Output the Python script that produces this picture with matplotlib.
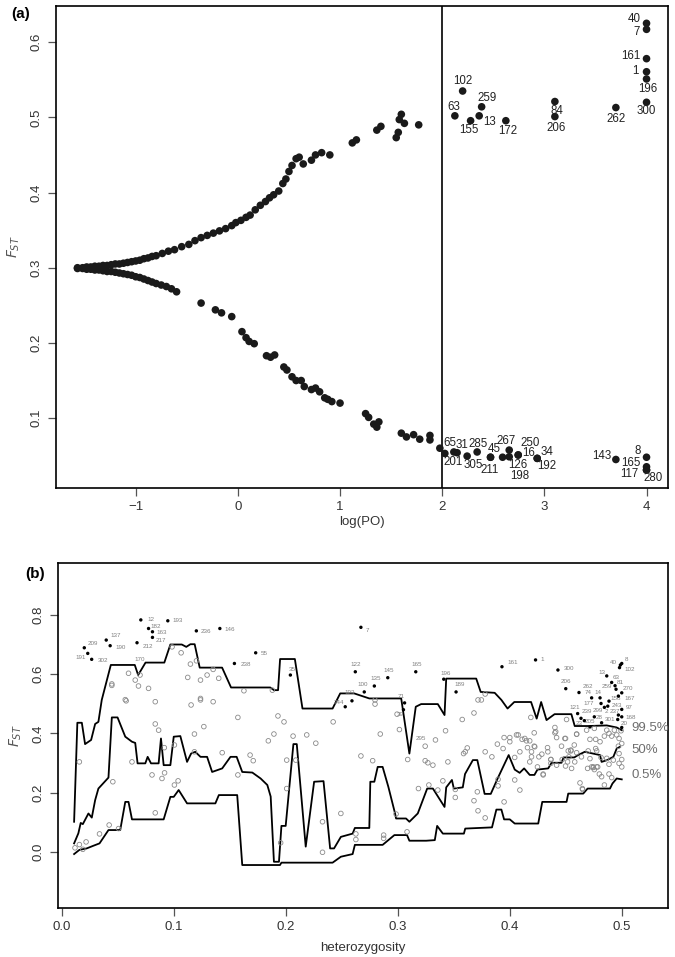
import matplotlib
matplotlib.use('Agg')
import matplotlib.pyplot as plt

plt.rcParams['font.family'] = ['Liberation Sans', 'DejaVu Sans']

# ---------------- Panel (a) data ----------------
a_upper_x = [-1.57, -1.52, -1.48, -1.44, -1.40, -1.36, -1.32, -1.28, -1.24, -1.20, -1.16, -1.12, -1.08,
             -1.04, -1.00, -0.96, -0.92, -0.88, -0.84, -0.80, -0.74, -0.68, -0.62, -0.55, -0.48, -0.42,
             -0.36, -0.30, -0.24, -0.18, -0.12, -0.06, -0.02, 0.03, 0.08, 0.12, 0.17, 0.22, 0.27, 0.31,
             0.35, 0.40, 0.44, 0.47, 0.50, 0.53, 0.57, 0.60, 0.64, 0.72, 0.76, 0.82, 0.90, 1.12, 1.16,
             1.36, 1.40, 1.55, 1.57, 1.58, 1.60, 1.63, 1.77]
a_upper_y = [0.300, 0.300, 0.301, 0.301, 0.302, 0.302, 0.303, 0.303, 0.304, 0.305, 0.305, 0.306, 0.307,
             0.308, 0.309, 0.310, 0.312, 0.313, 0.315, 0.316, 0.319, 0.322, 0.324, 0.328, 0.331, 0.336,
             0.340, 0.343, 0.346, 0.349, 0.352, 0.356, 0.360, 0.363, 0.367, 0.370, 0.377, 0.383, 0.388,
             0.393, 0.397, 0.402, 0.412, 0.418, 0.428, 0.436, 0.445, 0.447, 0.438, 0.443, 0.450, 0.453,
             0.450, 0.466, 0.470, 0.483, 0.488, 0.473, 0.480, 0.497, 0.504, 0.492, 0.490]
a_lower_x = [-1.57, -1.52, -1.48, -1.44, -1.40, -1.36, -1.32, -1.28, -1.24, -1.20, -1.16, -1.12, -1.08,
             -1.04, -1.00, -0.96, -0.92, -0.88, -0.84, -0.80, -0.75, -0.70, -0.65, -0.60, -0.36, -0.22,
             -0.16, -0.06, 0.04, 0.08, 0.11, 0.16, 0.28, 0.32, 0.36, 0.45, 0.48, 0.53, 0.57, 0.62, 0.65,
             0.72, 0.76, 0.80, 0.85, 0.88, 0.92, 1.00, 1.25, 1.28, 1.33, 1.36, 1.38, 1.60, 1.65, 1.72,
             1.78, 1.88, 1.88, 1.977]
a_lower_y = [0.299, 0.299, 0.298, 0.298, 0.297, 0.297, 0.296, 0.295, 0.295, 0.294, 0.293, 0.292, 0.291,
             0.290, 0.288, 0.287, 0.285, 0.283, 0.281, 0.279, 0.277, 0.275, 0.272, 0.268, 0.253, 0.244,
             0.240, 0.235, 0.215, 0.207, 0.202, 0.199, 0.183, 0.181, 0.184, 0.168, 0.164, 0.155, 0.150,
             0.150, 0.142, 0.138, 0.140, 0.135, 0.127, 0.125, 0.122, 0.120, 0.106, 0.101, 0.092, 0.088,
             0.095, 0.080, 0.075, 0.078, 0.072, 0.077, 0.071, 0.060]

a_out_labels = ['102', '63', '259', '155', '13', '172', '84', '206', '262', '300', '40', '7', '161', '1', '196',
                '201', '65', '31', '305', '285', '45', '211', '267', '126', '198', '250', '16', '34', '192',
                '143', '8', '165', '117', '280']
a_out_x = [2.20, 2.124, 2.386, 2.278, 2.362, 2.623, 3.103, 3.103, 3.70, 4.0, 4.0, 4.0, 4.0, 4.0, 4.0,
           2.026, 2.114, 2.146, 2.244, 2.342, 2.473, 2.473, 2.656, 2.656, 2.591, 2.744, 2.744, 2.93, 2.93,
           3.70, 4.0, 4.0, 4.0, 4.0]
a_out_y = [0.535, 0.502, 0.514, 0.4955, 0.502, 0.4955, 0.521, 0.501, 0.513, 0.520, 0.625, 0.617, 0.578,
           0.5606, 0.551, 0.053, 0.055, 0.054, 0.0495, 0.055, 0.048, 0.048, 0.0575, 0.0486, 0.048, 0.051,
           0.051, 0.0465, 0.0465, 0.045, 0.048, 0.0353, 0.031, 0.031]
# label offsets in pixels (dx right, dy down)
a_lab_dx = [0, -1, 5, -2, 10, 2, 2, 1, 0, 0, -12, -10, -16, -11, 1,
            8, -4, 5, 6, 1, 4, -1, -3, 9, 17, 12, 10, 10, 10, -14, -9, -16, -17, 7]
a_lab_dy = [-10, -9, -9, 9, 6, 10, 9, 11, 11, 9, -4, 3, -3, -1, 10,
            9, -9, -8, 9, -8, -8, 13, -9, 8, 19, -12, -2, -6, 8, -3, -6, -4, 4, 8]

# ---------------- Panel (b) data ----------------
b_open_x = [0.0155, 0.0116, 0.0155, 0.0186, 0.0215, 0.0335, 0.0421, 0.0454, 0.0505, 0.0573, 0.0625, 0.0804,
            0.0833, 0.0863, 0.0833, 0.0914, 0.0893, 0.0916, 0.0833, 0.1004, 0.1004, 0.1037, 0.1153, 0.1183,
            0.1183, 0.1237, 0.1267, 0.135, 0.1431, 0.1571, 0.1571, 0.168, 0.1708, 0.1843, 0.1893, 0.1929,
            0.1983, 0.2007, 0.2007, 0.1953, 0.2064, 0.2088, 0.2186, 0.2267, 0.2327, 0.2327, 0.2422, 0.2491,
            0.2625, 0.2625, 0.267, 0.2775, 0.2843, 0.2873, 0.2873, 0.2993, 0.3014, 0.2984, 0.3082, 0.3088,
            0.3184, 0.3244, 0.3244, 0.3268, 0.3313, 0.3277, 0.3336, 0.3357, 0.3402, 0.3426, 0.3447, 0.3513,
            0.3513, 0.3575, 0.3587, 0.3602, 0.362, 0.368, 0.368, 0.371, 0.3716, 0.378, 0.378, 0.384, 0.3889,
            0.3895, 0.3895, 0.394, 0.3949, 0.3949, 0.400, 0.400, 0.4044, 0.4044, 0.406, 0.4075, 0.409, 0.409,
            0.411, 0.4149, 0.4178, 0.4178, 0.4194, 0.4218, 0.4218, 0.426, 0.4298, 0.4337, 0.4367, 0.4367,
            0.4403, 0.4403, 0.4418, 0.4468, 0.4492, 0.4498, 0.4522, 0.4546, 0.4552, 0.4576, 0.458, 0.4597,
            0.4597, 0.4627, 0.465, 0.4695, 0.4716, 0.4731, 0.4746, 0.4755, 0.4767, 0.4776, 0.4776, 0.48,
            0.4188, 0.441, 0.4507, 0.4498, 0.4597, 0.4686, 0.4716, 0.4755, 0.4806, 0.4845, 0.4866, 0.4886,
            0.491, 0.4934, 0.4955, 0.4976, 0.4994, 0.5, 0.497, 0.4976, 0.5, 0.5, 0.4976, 0.4925, 0.4886,
            0.4866, 0.4815, 0.4785, 0.4746, 0.4767, 0.47, 0.464, 0.4546, 0.4528, 0.4516, 0.4462, 0.4418,
            0.434, 0.4286, 0.4223, 0.4194, 0.4158, 0.4134, 0.4298, 0.4247, 0.4367, 0.4648, 0.482, 0.4886,
            0.491, 0.4845, 0.0445, 0.0445, 0.0594, 0.0654, 0.0683, 0.0773, 0.0565, 0.0983, 0.1064, 0.1147,
            0.1201, 0.1123, 0.1237, 0.1296, 0.135, 0.140, 0.1625, 0.1237, 0.1879, 0.2796, 0.2796, 0.3716,
            0.3746, 0.378, 0.0697]
b_open_y = [0.304, 0.014, 0.025, 0.009, 0.034, 0.061, 0.091, 0.237, 0.079, 0.510, 0.304, 0.260, 0.432,
            0.411, 0.507, 0.352, 0.248, 0.267, 0.132, 0.361, 0.226, 0.240, 0.496, 0.398, 0.338, 0.513,
            0.423, 0.507, 0.335, 0.454, 0.260, 0.327, 0.308, 0.375, 0.398, 0.459, 0.439, 0.214, 0.310,
            0.031, 0.391, 0.310, 0.395, 0.367, 0.102, -0.001, 0.439, 0.130, 0.061, 0.042, 0.324, 0.308,
            0.398, 0.057, 0.046, 0.465, 0.413, 0.128, 0.068, 0.312, 0.214, 0.357, 0.308, 0.301, 0.293,
            0.226, 0.378, 0.209, 0.240, 0.409, 0.304, 0.211, 0.184, 0.447, 0.332, 0.338, 0.351, 0.469,
            0.173, 0.203, 0.139, 0.338, 0.115, 0.321, 0.364, 0.245, 0.223, 0.349, 0.386, 0.169, 0.386,
            0.372, 0.319, 0.243, 0.395, 0.395, 0.338, 0.209, 0.380, 0.375, 0.375, 0.304, 0.338, 0.402,
            0.357, 0.321, 0.260, 0.352, 0.312, 0.299, 0.420, 0.402, 0.293, 0.312, 0.383, 0.290, 0.341,
            0.341, 0.282, 0.361, 0.304, 0.398, 0.335, 0.233, 0.211, 0.282, 0.315, 0.287, 0.287, 0.278,
            0.380, 0.341, 0.287, 0.263, 0.454, 0.406, 0.447, 0.383, 0.397, 0.411, 0.380, 0.417, 0.372,
            0.391, 0.411, 0.400, 0.391, 0.411, 0.395, 0.383, 0.409, 0.366, 0.357, 0.332, 0.312, 0.287,
            0.299, 0.310, 0.296, 0.316, 0.319, 0.287, 0.285, 0.349, 0.341, 0.321, 0.344, 0.321, 0.304,
            0.357, 0.386, 0.338, 0.330, 0.355, 0.321, 0.352, 0.383, 0.263, 0.287, 0.312, 0.214, 0.254,
            0.263, 0.251, 0.226, 0.567, 0.562, 0.603, 0.580, 0.560, 0.552, 0.514, 0.692, 0.672, 0.634,
            0.645, 0.589, 0.580, 0.597, 0.616, 0.586, 0.544, 0.518, 0.546, 0.513, 0.499, 0.513, 0.513,
            0.533, 0.597]

b_out_labels = ['12', '193', '182', '163', '217', '212', '137', '190', '209', '191', '302', '236', '146',
                '55', '238', '35', '7', '122', '145', '135', '165', '100', '103', '244', '71', '39', '196',
                '189', '161', '1', '300',
                '8', '40', '102', '13', '63', '81', '259', '270', '206', '262', '74', '14', '158', '167',
                '177', '243', '97', '121', '239', '299', '2', '237', '28', '301', '168', '20', '23', '205']
b_out_x = [0.0704, 0.0945, 0.0773, 0.0808, 0.0808, 0.067, 0.0395, 0.043, 0.0199, 0.023, 0.0265, 0.120,
           0.141, 0.173, 0.154, 0.204, 0.267, 0.262, 0.291, 0.279, 0.316, 0.270, 0.259, 0.253, 0.306,
           0.305, 0.341, 0.352, 0.393, 0.423, 0.443,
           0.500, 0.4988, 0.498, 0.4866, 0.491, 0.494, 0.4949, 0.500, 0.450, 0.4618, 0.4731, 0.4806,
           0.4886, 0.497, 0.4815, 0.4875, 0.500, 0.4606, 0.4636, 0.4755, 0.4845, 0.497, 0.482, 0.4964,
           0.500, 0.500, 0.4666, 0.4716]
b_out_y = [0.783, 0.780, 0.754, 0.743, 0.724, 0.706, 0.715, 0.696, 0.689, 0.670, 0.650, 0.746, 0.754,
           0.672, 0.636, 0.597, 0.758, 0.608, 0.588, 0.560, 0.608, 0.540, 0.510, 0.490, 0.503, 0.480,
           0.583, 0.540, 0.625, 0.648, 0.614,
           0.636, 0.631, 0.622, 0.594, 0.572, 0.561, 0.549, 0.537, 0.551, 0.538, 0.520, 0.520, 0.509,
           0.526, 0.501, 0.492, 0.481, 0.467, 0.451, 0.456, 0.488, 0.462, 0.436, 0.447, 0.456, 0.420,
           0.443, 0.422]
b_lab_dx = [10, 10, 7, 9, 8, 11, 9, 11, 9, -7, 11, 10, 10, 9, 11, 2, 7, 0, 1, 1, 1, -2, -2, -6, -3, -3,
            2, 4, 11, 7, 11,
            5, -7, 10, -5, 4, 5, -9, 6, 0, 9, -3, -2, 7, 11, -12, 9, 7, -3, 6, 3, 2, -3, -2, -8, 9, 2, -5, 0]
b_lab_dy = [0, 0, -2, 1, 3, 4, -5, 2, -4, 4, 1, 1, 1, 1, 1, -6, 3, -7, -7, -8, -7, -7, -8, -4, -6, 5,
            -6, -7, -4, 0, -2,
            -4, -2, 2, -3, -5, -3, -3, -4, -7, -6, -5, -5, -3, 2, 0, -1, -2, -6, -7, -6, 4, -4, -5, 0, 1,
            -4, 3, -5]

b_extra_labels = ['170', '295']
b_extra_x = [0.0697, 0.3208]
b_extra_y = [0.648, 0.383]

b_q995_x = [0.0108, 0.0137, 0.0177, 0.0206, 0.026, 0.0296, 0.0325, 0.0355, 0.0436, 0.065, 0.068, 0.0746,
            0.0914, 0.0968, 0.107, 0.1110, 0.1147, 0.1185, 0.123, 0.143, 0.151, 0.186, 0.1894, 0.1930,
            0.1948, 0.208, 0.2148, 0.2417, 0.2485, 0.261, 0.2745, 0.303, 0.3103, 0.316, 0.3208, 0.3357,
            0.3417, 0.3432, 0.370, 0.374, 0.3865, 0.3925, 0.398, 0.404, 0.419, 0.4240, 0.428, 0.4328,
            0.440, 0.455, 0.458, 0.470, 0.4866, 0.4955, 0.500]
b_q995_y = [0.102, 0.436, 0.436, 0.364, 0.378, 0.432, 0.439, 0.513, 0.631, 0.631, 0.597, 0.639, 0.639,
            0.700, 0.700, 0.692, 0.701, 0.701, 0.622, 0.622, 0.555, 0.555, 0.546, 0.546, 0.651, 0.651,
            0.484, 0.484, 0.535, 0.535, 0.518, 0.518, 0.332, 0.490, 0.499, 0.499, 0.462, 0.585, 0.585,
            0.540, 0.537, 0.513, 0.484, 0.506, 0.506, 0.450, 0.506, 0.445, 0.465, 0.465, 0.425, 0.425,
            0.427, 0.420, 0.411]

b_q50_x = [0.0108, 0.0146, 0.0167, 0.0186, 0.0236, 0.0266, 0.0296, 0.0325, 0.0415, 0.0445, 0.0496, 0.0565,
           0.0625, 0.0654, 0.0675, 0.0744, 0.0765, 0.0795, 0.0863, 0.0884, 0.0908, 0.0968, 0.0998, 0.1057,
           0.1117, 0.1153, 0.119, 0.1237, 0.1296, 0.1341, 0.1431, 0.1505, 0.156, 0.161, 0.170, 0.1774,
           0.1834, 0.1864, 0.1893, 0.1938, 0.196, 0.1998, 0.2067, 0.2097, 0.2177, 0.2252, 0.2336, 0.2395,
           0.2430, 0.2491, 0.2596, 0.2616, 0.2745, 0.2754, 0.279, 0.282, 0.2864, 0.2915, 0.2975, 0.2984,
           0.3073, 0.3103, 0.3178, 0.3262, 0.3313, 0.3417, 0.3432, 0.3483, 0.350, 0.358, 0.360, 0.367,
           0.371, 0.3775, 0.383, 0.3895, 0.399, 0.4044, 0.4088, 0.4128, 0.4178, 0.4220, 0.4247, 0.4343,
           0.4373, 0.4462, 0.4480, 0.4576, 0.461, 0.467, 0.4806, 0.482, 0.4870, 0.4925, 0.4955, 0.4985]
b_q50_y = [0.029, 0.063, 0.098, 0.094, 0.130, 0.116, 0.175, 0.214, 0.251, 0.454, 0.454, 0.389, 0.372,
           0.368, 0.299, 0.299, 0.321, 0.299, 0.299, 0.383, 0.293, 0.293, 0.389, 0.391, 0.304, 0.332,
           0.338, 0.321, 0.321, 0.270, 0.282, 0.321, 0.321, 0.270, 0.268, 0.248, 0.226, 0.187, -0.033,
           -0.033, 0.088, 0.088, 0.364, 0.364, 0.018, 0.237, 0.239, 0.012, 0.012, 0.051, 0.062, 0.081,
           0.081, 0.237, 0.237, 0.287, 0.287, 0.220, 0.130, 0.113, 0.113, 0.102, 0.130, 0.214, 0.214,
           0.152, 0.218, 0.243, 0.214, 0.218, 0.263, 0.310, 0.310, 0.196, 0.196, 0.251, 0.327, 0.278,
           0.267, 0.282, 0.260, 0.260, 0.278, 0.282, 0.301, 0.301, 0.319, 0.319, 0.327, 0.338, 0.327,
           0.304, 0.310, 0.321, 0.349, 0.355]

b_q005_x = [0.0108, 0.0155, 0.022, 0.028, 0.0335, 0.0415, 0.052, 0.0565, 0.0594, 0.0625, 0.0908, 0.0968,
            0.0998, 0.1042, 0.1117, 0.137, 0.1401, 0.1565, 0.161, 0.1947, 0.1960, 0.2417, 0.2491, 0.2596,
            0.2616, 0.2864, 0.2969, 0.3082, 0.3103, 0.3253, 0.3330, 0.3351, 0.3402, 0.359, 0.3602, 0.3841,
            0.388, 0.3925, 0.3949, 0.400, 0.4044, 0.4254, 0.429, 0.4507, 0.4522, 0.4656, 0.4695, 0.4895,
            0.4917, 0.4955, 0.500]
b_q005_y = [-0.007, 0.007, 0.012, 0.021, 0.029, 0.074, 0.074, 0.169, 0.169, 0.110, 0.110, 0.186, 0.186,
            0.209, 0.164, 0.164, 0.192, 0.192, -0.044, -0.044, -0.036, -0.036, -0.016, -0.007, 0.024,
            0.024, 0.057, 0.057, 0.038, 0.038, 0.040, 0.088, 0.062, 0.062, 0.079, 0.083, 0.143, 0.143,
            0.110, 0.110, 0.096, 0.096, 0.169, 0.169, 0.197, 0.197, 0.214, 0.214, 0.231, 0.248, 0.245]

q_labels = ['99.5%', '50%', '0.5%']
q_label_y = [0.418, 0.344, 0.260]

# ---------------- Figure ----------------
fig = plt.figure(figsize=(6.75, 9.57), dpi=100)
axA = fig.add_axes([0.083, 0.490, 0.9066, 0.5037])
axB = fig.add_axes([0.0859, 0.0512, 0.9037, 0.3605])

tick_col = '#333333'
for ax in (axA, axB):
    for s in ax.spines.values():
        s.set_linewidth(1.2)
        s.set_color('black')
    ax.tick_params(direction='out', length=6, width=0.9, colors='#555555', labelcolor=tick_col,
                   labelsize=9.5)

# Panel (a)
axA.scatter(a_upper_x, a_upper_y, s=30, c='#1a1a1a', edgecolors='none', zorder=3)
axA.scatter(a_lower_x, a_lower_y, s=30, c='#1a1a1a', edgecolors='none', zorder=3)
axA.scatter(a_out_x, a_out_y, s=30, c='#1a1a1a', edgecolors='none', zorder=3)
for lab, x, y, dx, dy in zip(a_out_labels, a_out_x, a_out_y, a_lab_dx, a_lab_dy):
    axA.annotate(lab, (x, y), xytext=(dx, -dy), textcoords='offset pixels', ha='center', va='center',
                 fontsize=8.3, color='#222222')
axA.axvline(2, color='black', lw=1.2)
axA.set_xlim(-1.78, 4.21)
axA.set_ylim(0.007, 0.648)
axA.set_xticks([-1, 0, 1, 2, 3, 4])
axA.set_yticks([0.1, 0.2, 0.3, 0.4, 0.5, 0.6])
axA.set_yticklabels(['0.1', '0.2', '0.3', '0.4', '0.5', '0.6'], rotation=90, va='center')
axA.set_xlabel('log(PO)', fontsize=9.5, color=tick_col, labelpad=2)
axA.set_ylabel(r'$F_{ST}$', fontsize=10, color='#555555', labelpad=6)
fig.text(0.03, 0.985, '(a)', fontsize=11, fontweight='bold', ha='center', va='center')

# Panel (b)
axB.plot(b_q995_x, b_q995_y, color='black', lw=1.3, zorder=2)
axB.plot(b_q50_x, b_q50_y, color='black', lw=1.3, zorder=2)
axB.plot(b_q005_x, b_q005_y, color='black', lw=1.3, zorder=2)
axB.scatter(b_open_x, b_open_y, s=11, facecolors='none', edgecolors='#8a8a8a', linewidths=0.6, zorder=3)
axB.scatter(b_out_x, b_out_y, s=6, c='black', edgecolors='none', zorder=4)
for lab, x, y, dx, dy in zip(b_out_labels, b_out_x, b_out_y, b_lab_dx, b_lab_dy):
    axB.annotate(lab, (x, y), xytext=(dx, -dy), textcoords='offset pixels', ha='center', va='center',
                 fontsize=4.5, color='#808080')
for lab, x, y in zip(b_extra_labels, b_extra_x, b_extra_y):
    axB.text(x, y, lab, fontsize=4.5, color='#808080', ha='center', va='center')
for lab, y in zip(q_labels, q_label_y):
    axB.text(0.509, y, lab, fontsize=9.5, color='#6e6e6e', ha='left', va='center')
axB.set_xlim(-0.0036, 0.5413)
axB.set_ylim(-0.189, 0.975)
axB.set_xticks([0.0, 0.1, 0.2, 0.3, 0.4, 0.5])
axB.set_xticklabels(['0.0', '0.1', '0.2', '0.3', '0.4', '0.5'])
axB.set_yticks([0.0, 0.2, 0.4, 0.6, 0.8])
axB.set_yticklabels(['0.0', '0.2', '0.4', '0.6', '0.8'], rotation=90, va='center')
axB.set_xlabel('heterozygosity', fontsize=9.5, color=tick_col, labelpad=6)
axB.set_ylabel(r'$F_{ST}$', fontsize=10, color='#555555', labelpad=6)
fig.text(0.052, 0.4, '(b)', fontsize=11, fontweight='bold', ha='center', va='center')

fig.savefig('out.png', dpi=100)
